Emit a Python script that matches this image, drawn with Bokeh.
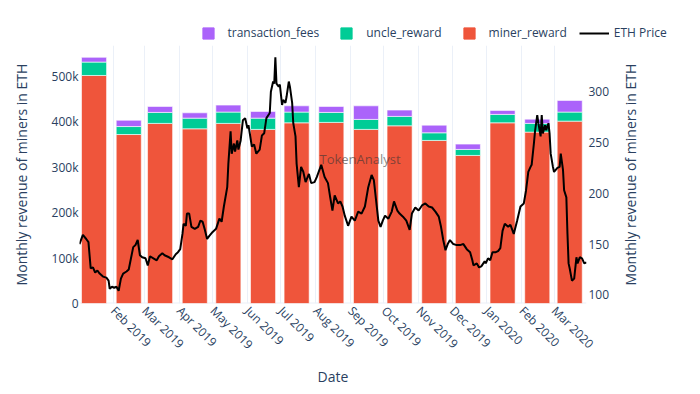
import math
from datetime import datetime, timedelta

import numpy as np
from bokeh.plotting import figure
from bokeh.layouts import column, row
from bokeh.models import (ColumnDataSource, Range1d, LinearAxis, Legend, LegendItem, Label,
                          SingleIntervalTicker, NumeralTickFormatter, MonthsTicker,
                          DatetimeTickFormatter, Span)
from bokeh.embed import file_html
from bokeh.resources import INLINE

# ---------------- data ----------------
months = ["2019-01-15", "2019-02-15", "2019-03-15", "2019-04-15", "2019-05-15",
          "2019-06-15", "2019-07-15", "2019-08-15", "2019-09-15", "2019-10-15",
          "2019-11-15", "2019-12-15", "2020-01-15", "2020-02-15", "2020-03-15"]
miner_reward = [502000, 372000, 396500, 384600, 396500, 383300, 397800, 398700,
                383300, 391200, 359000, 326000, 397800, 377300, 401500]
uncle_reward = [29500, 17600, 24200, 23500, 24900, 24800, 23600, 22000,
                22000, 20700, 16800, 13200, 18500, 19200, 19900]
transaction_fees = [10500, 13900, 13200, 11700, 15400, 14800, 13800, 13200,
                    29900, 13900, 16900, 11700, 8800, 9400, 25700]

price_start = "2019-01-01"
price_days = [1, 4, 7, 9, 11, 13, 15, 17, 19, 22, 25, 27, 28, 30, 32, 34, 36, 38, 40, 43,
              45, 47, 49, 51, 53, 55, 57, 60, 62, 64, 67, 70, 72, 75, 77, 81, 84, 87, 89, 91,
              93, 94, 96, 97, 99, 101, 104, 107, 109, 111, 113, 115, 117, 120, 123, 126, 128, 130, 133, 134,
              136, 137, 139, 140, 142, 143, 145, 147, 149, 151, 152, 155, 157, 159, 162, 164, 166, 168, 171, 172,
              174, 175, 176, 177, 179, 180, 182, 183, 185, 186, 188, 189, 191, 192, 194, 195, 197, 199, 201, 203,
              206, 208, 211, 213, 217, 220, 223, 225, 227, 229, 232, 234, 236, 238, 241, 244, 247, 250, 253, 256,
              259, 262, 264, 266, 268, 270, 272, 274, 277, 280, 282, 285, 287, 290, 293, 296, 298, 301, 304, 307,
              310, 313, 316, 319, 322, 324, 326, 328, 330, 332, 335, 338, 341, 344, 347, 350, 352, 353, 356, 358,
              360, 363, 364, 366, 368, 370, 373, 375, 377, 379, 381, 384, 386, 389, 392, 395, 398, 400, 402, 404,
              405, 407, 408, 410, 411, 413, 414, 415, 417, 418, 420, 421, 422, 424, 425, 428, 430, 431, 433, 434,
              436, 437, 438, 439, 441, 443, 445, 446, 448, 450, 452, 454]
eth_price = [150, 159, 155, 152, 126, 127, 122, 124, 121, 118, 117, 114, 106, 108, 107, 108, 104, 116, 121, 123,
             125, 136, 147, 149, 154, 139, 137, 136, 129, 138, 136, 134, 138, 141, 139, 137, 135, 140, 142, 145,
             160, 170, 168, 180, 180, 167, 165, 167, 173, 172, 164, 155, 158, 162, 165, 175, 172, 187, 206, 229,
             261, 239, 249, 241, 252, 243, 252, 272, 274, 264, 267, 246, 248, 239, 243, 257, 259, 274, 279, 300,
             310, 308, 334, 308, 305, 307, 287, 292, 289, 295, 310, 305, 289, 269, 256, 229, 206, 226, 221, 211,
             219, 210, 211, 216, 228, 216, 210, 196, 183, 198, 190, 192, 187, 178, 168, 177, 173, 182, 180, 187,
             206, 218, 213, 193, 173, 167, 173, 178, 175, 182, 192, 183, 180, 177, 173, 164, 180, 186, 183, 188,
             190, 187, 186, 182, 177, 167, 154, 144, 150, 154, 150, 149, 149, 150, 145, 142, 134, 129, 131, 127,
             128, 133, 131, 136, 134, 142, 142, 143, 146, 163, 170, 167, 169, 160, 173, 187, 190, 203, 221, 226,
             228, 249, 261, 277, 269, 256, 277, 259, 267, 262, 269, 259, 239, 226, 221, 225, 226, 239, 223, 203,
             196, 160, 131, 126, 114, 116, 137, 131, 137, 136, 131, 132]

series_names = ["miner_reward", "uncle_reward", "transaction_fees"]
series_colors = ["#EF553B", "#00CC96", "#AB63FA"]
legend_order = ["transaction_fees", "uncle_reward", "miner_reward"]
line_name = "ETH Price"

y_title = "Monthly revenue of miners in ETH"
x_title = "Date"

# ---------------- layout constants ----------------
FONT = "Open Sans"
TXT = "#2a3f5f"

TOTAL_W = 692
TOP_H = 45                      # strip holding the legend
MAIN_W, MAIN_H = 615, 344
ML, MR, MB = 79, 29, 86
FW, FH = MAIN_W - ML - MR, MAIN_H - MB
RT_W = TOTAL_W - MAIN_W         # strip holding the right-hand title


def blank_fig(w, h):
    f = figure(width=w, height=h, x_axis_type=None, y_axis_type=None, output_backend="svg",
               toolbar_location=None, x_range=Range1d(0, 1), y_range=Range1d(0, 1),
               min_border_left=0, min_border_right=0, min_border_top=0, min_border_bottom=0)
    f.outline_line_color = None
    f.background_fill_color = "white"
    f.border_fill_color = "white"
    return f


# ---------------- main figure ----------------
bar_x = [datetime.strptime(m, "%Y-%m-%d") for m in months]
t0 = datetime.strptime(price_start, "%Y-%m-%d")
price_x = [t0 + timedelta(days=d) for d in price_days]

src = ColumnDataSource(dict(x=bar_x, miner_reward=miner_reward,
                            uncle_reward=uncle_reward, transaction_fees=transaction_fees))
psrc = ColumnDataSource(dict(x=price_x, price=eth_price))

p = figure(width=MAIN_W, height=MAIN_H, x_axis_type="datetime", output_backend="svg",
           toolbar_location=None, x_range=Range1d(price_x[0], price_x[-1]),
           y_range=Range1d(0, 568000),
           min_border_left=ML, min_border_right=MR, min_border_top=0, min_border_bottom=MB)
p.outline_line_color = None
p.background_fill_color = "white"
p.border_fill_color = "white"
p.extra_y_ranges = {"price": Range1d(91.5, 345.5)}

p.ygrid.grid_line_color = None
p.xgrid.grid_line_color = "#EBF0F8"
p.xgrid.grid_line_width = 1
p.xgrid.ticker = MonthsTicker(months=list(range(12)))
p.add_layout(Span(location=0, dimension="width", line_color="#EBF0F8", line_width=2, level="underlay"))

bar_width = 22.4 * 24 * 3600 * 1000
p.vbar_stack(series_names, x="x", width=bar_width, source=src,
             fill_color=series_colors, line_color="white", line_width=0.6)

p.line(x="x", y="price", source=psrc, y_range_name="price", line_color="black", line_width=2)

xa = p.xaxis[0]
xa.ticker = MonthsTicker(months=list(range(12)))
fmt = "%b %Y"
xa.formatter = DatetimeTickFormatter(days=fmt, months=fmt, years=fmt)
xa.major_label_orientation = -math.pi / 4
xa.axis_label = x_title

ya = p.yaxis[0]
ya.ticker = SingleIntervalTicker(interval=100000)
ya.formatter = NumeralTickFormatter(format="0a")
ya.axis_label = y_title

ra = LinearAxis(y_range_name="price", ticker=SingleIntervalTicker(interval=50))
p.add_layout(ra, "right")

for ax in [xa, ya, ra]:
    ax.axis_line_color = None
    ax.major_tick_line_color = None
    ax.minor_tick_line_color = None
    ax.major_tick_out = 0
    ax.major_tick_in = 0
    ax.minor_tick_out = 0
    ax.minor_tick_in = 0
    ax.major_label_text_font = FONT
    ax.major_label_text_font_size = "12px"
    ax.major_label_text_color = TXT
    ax.axis_label_text_font = FONT
    ax.axis_label_text_font_size = "14px"
    ax.axis_label_text_font_style = "normal"
    ax.axis_label_text_color = TXT

xa.major_label_standoff = 5
xa.axis_label_standoff = 5
ya.major_label_standoff = 1
ya.axis_label_standoff = 18
ra.major_label_standoff = 2

# watermark
p.add_layout(Label(x=240, y=136, x_units="screen", y_units="screen", text="TokenAnalyst",
                   text_font=FONT, text_font_size="13px", text_color="#333333", text_alpha=0.6))

# ---------------- legend strip ----------------
lg = blank_fig(TOTAL_W, TOP_H)
nan = np.array([np.nan])
sw = {}
for name, col in zip(series_names, series_colors):
    sw[name] = lg.scatter(x=nan, y=nan, marker="square", size=11, fill_color=col, line_color=col)
sw_line = lg.line(x=nan, y=nan, line_color="black", line_width=2)
items = [LegendItem(label=n, renderers=[sw[n]]) for n in legend_order]
items.append(LegendItem(label=line_name, renderers=[sw_line]))
legend = Legend(items=items, orientation="horizontal", location=(192.5, -1.5),
                glyph_width=30, glyph_height=28, label_height=28, label_standoff=5, spacing=12,
                padding=0, margin=0, border_line_color=None, background_fill_alpha=0,
                label_text_font=FONT, label_text_font_size="12px", label_text_color=TXT)
lg.add_layout(legend)

# ---------------- right title strip (frame is aligned with the main frame) ----------------
rt = blank_fig(RT_W, MAIN_H)
rt.add_layout(Label(x=15, y=FH / 2, x_units="screen", y_units="screen", text=y_title,
                    angle=math.pi / 2, text_align="center", text_baseline="middle",
                    text_font=FONT, text_font_size="14px", text_color=TXT))

layout = column(lg, row(p, rt, spacing=0), spacing=0)

open("out.html", "w").write(file_html(layout, INLINE))
